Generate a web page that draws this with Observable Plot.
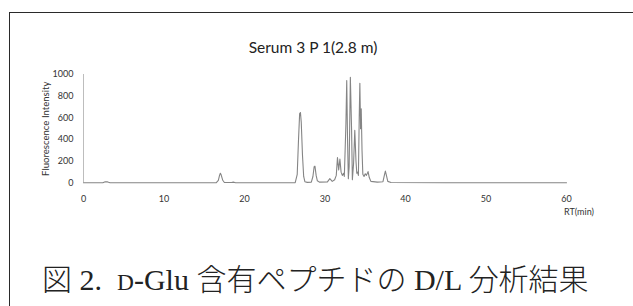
<!DOCTYPE html>
<html>
<head>
<meta charset="utf-8">
<script src="https://cdn.jsdelivr.net/npm/d3@7"></script>
<script src="https://cdn.jsdelivr.net/npm/@observablehq/plot@0.6"></script>
<style>
  html, body { margin: 0; padding: 0; background: #fff; width: 633px; height: 306px; overflow: hidden; }
  #wrap { position: relative; width: 633px; height: 306px; }
  #frame { position: absolute; left: 9px; top: 12px; width: 700px; height: 400px; border: 1.5px solid #2a2a2a; box-sizing: border-box; }
  #chart { position: absolute; left: 0; top: 0; }
  #title { position: absolute; left: 163px; width: 300px; top: 38px; text-align: center; font-family: Lato, sans-serif; font-size: 15.5px; line-height: 18px; color: #222; }
  #xlab { position: absolute; left: 564px; top: 206px; font-family: Lato, sans-serif; font-size: 9px; line-height: 12px; color: #333; }
  #caption { position: absolute; left: 42px; top: 259px; font-family: "Liberation Serif", "Noto Sans CJK JP", serif; font-size: 30px; line-height: 36px; color: #222; white-space: nowrap; }
  #caption .cjk { font-family: "Noto Sans CJK JP", sans-serif; font-weight: 300; }
</style>
</head>
<body>
<div id="wrap">
  <div id="frame"></div>
  <div id="chart"></div>
  <div id="title">Serum 3 P 1(2.8 m)</div>
  <div id="xlab">RT(min)</div>
  <div id="caption"><span class="cjk">図</span> 2.&nbsp; <span style="font-size:0.78em">D</span>-Glu <span class="cjk">含有ペプチドの</span> D/L <span class="cjk">分析結果</span></div>
</div>
<script>
const titleText = "Serum 3 P 1(2.8 m)";
const yLabel = "Fluorescence Intensity";
const xTicks = [0, 10, 20, 30, 40, 50, 60];
const yTicks = [0, 200, 400, 600, 800, 1000];

// retention time (min) and fluorescence intensity
const rt = [
  0, 2.4, 2.7, 3.0, 3.3,
  16.5, 16.75, 16.9, 17.0, 17.1, 17.3, 17.5,
  18.4, 18.6, 18.9,
  26.3, 26.55, 26.7, 26.85, 26.95, 27.05, 27.2, 27.35, 27.5, 27.8,
  28.3, 28.5, 28.65, 28.75, 28.9, 29.05, 29.3,
  30.3, 30.6, 30.9, 31.2, 31.4, 31.55, 31.7, 31.85, 32.0, 32.15, 32.3, 32.4,
  32.5, 32.6, 32.7, 32.8, 32.9, 33.0, 33.15, 33.3, 33.4,
  33.55, 33.7, 33.85, 33.95, 34.05, 34.15, 34.25, 34.33, 34.42, 34.5, 34.6, 34.7,
  34.85, 35.0, 35.15, 35.35, 35.5, 35.7,
  36.5, 37.2, 37.4, 37.5, 37.6, 37.8, 38.2, 45, 60
];
const intensity = [
  2, 2, 12, 10, 3,
  3, 25, 70, 90, 75, 25, 5,
  4, 8, 3,
  3, 80, 380, 640, 650, 560, 260, 60, 12, 6,
  8, 60, 150, 155, 70, 20, 8,
  10, 40, 15, 30, 70, 235, 120, 220, 100, 70, 90, 60,
  300, 550, 945, 400, 40, 150, 975, 500, 30,
  180, 485, 200, 90, 100, 70, 600, 920, 500, 685, 300, 80,
  60, 85, 70, 105, 50, 15,
  8, 12, 80, 110, 80, 15, 5, 3, 2
];
const data = rt.map((t, i) => ({ rt: t, v: intensity[i] }));

const chart = Plot.plot({
  width: 633,
  height: 225,
  marginTop: 74,
  marginBottom: 42.5,
  marginLeft: 83,
  marginRight: 67,
  style: { fontFamily: "Lato, sans-serif", fontSize: "9px", color: "#333", background: "transparent" },
  x: { domain: [0, 60] },
  y: { domain: [0, 1000] },
  marks: [
    Plot.ruleX([0], { stroke: "#bdbdbd", strokeWidth: 1 }),
    Plot.axisX({ ticks: xTicks, tickSize: 0, tickPadding: 13, tickFormat: d3.format("d"), label: null, fill: "#333" }),
    Plot.axisY({ ticks: yTicks, tickSize: 0, tickPadding: 10, tickFormat: d3.format("d"), label: null, fill: "#333" }),
    Plot.axisY({ ticks: [], tickSize: 0, label: yLabel, labelAnchor: "center", labelArrow: "none", labelOffset: 41, fontSize: 9.6, fill: "#333" }),
    Plot.line(data, { x: "rt", y: "v", stroke: "#858585", strokeWidth: 1.1, curve: "linear" })
  ]
});
document.getElementById("chart").appendChild(chart);
</script>
</body>
</html>
